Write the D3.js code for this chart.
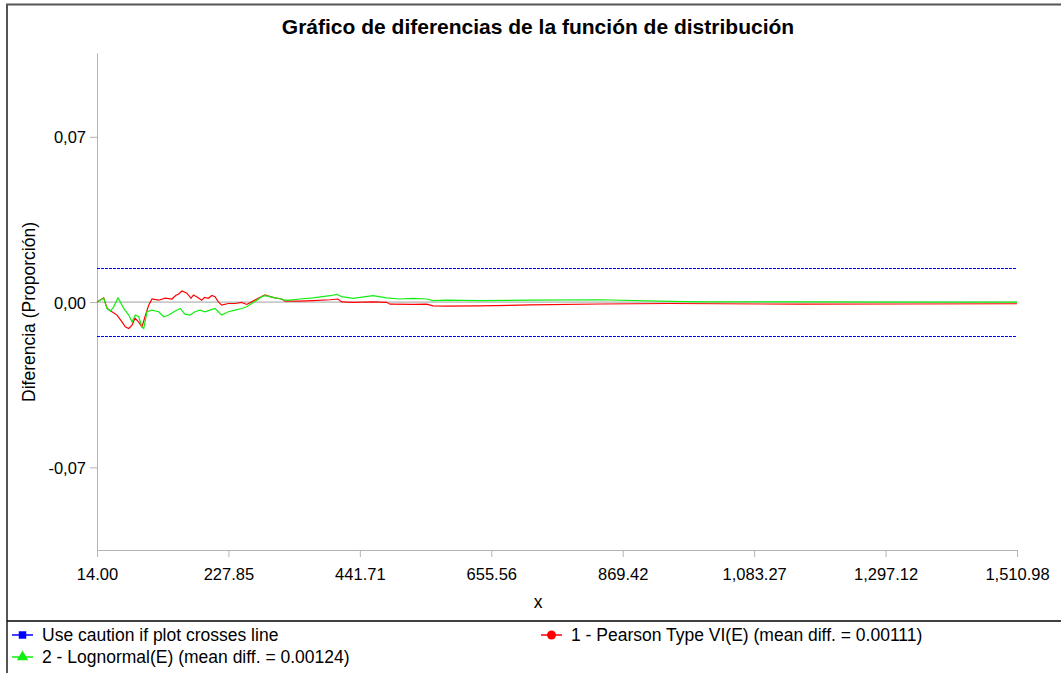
<!DOCTYPE html>
<html>
<head>
<meta charset="utf-8">
<script src="https://cdn.jsdelivr.net/npm/d3@7"></script>
<style>
  body { margin: 0; background: #fff; }
  text { font-family: "Liberation Sans", Arial, sans-serif; fill: #000; }
</style>
</head>
<body>
<svg width="1061" height="673"></svg>
<script>
// x values (data units) and differences for each fitted distribution
var redX = [14, 24.9, 30.3, 38.4, 46.5, 54.7, 60.0, 65.6, 71.0, 75.8, 81.9, 87.2, 92.1, 98.1, 103.5, 114.4, 125.1, 136.0, 142.0, 146.9, 152.3, 160.4, 167.0, 171.0, 176.2, 184.4, 189.0, 195.1, 201.0, 206.0, 211.4, 216.9, 227.6, 238.5, 249.4, 257.6, 265.7, 273.9, 282.0, 287.4, 295.5, 303.6, 314.5, 319.9, 344.3, 365.5, 393.1, 406.1, 412.2, 430.5, 463.1, 485.4, 490.8, 528.2, 550.5, 560.7, 583.0, 637.2, 718.6, 832.5, 946.4, 1158, 1320, 1510.98];
var redY = [0, 0.0018, -0.0026, -0.0041, -0.0055, -0.0084, -0.0105, -0.0112, -0.0098, -0.0068, -0.0085, -0.0105, -0.0062, -0.0013, 0.0013, 0.0008, 0.0017, 0.0013, 0.0028, 0.0034, 0.0047, 0.0038, 0.0016, 0.0030, 0.0023, 0.0008, 0.0020, 0.0016, 0.0028, 0.0023, 0.0001, -0.0013, -0.0006, -0.0006, -0.0001, -0.0010, 0.0001, 0.0013, 0.0023, 0.0030, 0.0023, 0.0018, 0.0013, 0.0004, 0.0004, 0.0006, 0.0010, 0.0013, 0.0001, -0.0001, 0.0001, -0.0001, -0.0009, -0.0010, -0.0009, -0.0016, -0.0017, -0.0016, -0.0012, -0.0008, -0.0006, -0.0009, -0.0008, -0.0007];

var greenX = [14, 24.9, 30.3, 35.6, 41.2, 48.2, 51.9, 57.4, 65.6, 71.0, 76.3, 81.9, 87.2, 90.0, 95.4, 103.5, 114.4, 122.5, 130.7, 141.4, 149.5, 157.2, 165.3, 173.5, 181.6, 189.7, 197.9, 206.0, 211.4, 216.9, 227.6, 238.5, 249.4, 257.6, 265.7, 273.9, 282.0, 287.4, 295.5, 303.6, 314.5, 319.9, 328.0, 344.3, 365.5, 393.1, 404.0, 412.2, 430.5, 463.1, 485.4, 507.0, 528.2, 550.5, 560.7, 583.0, 637.2, 718.6, 832.5, 946.4, 1000, 1158, 1320, 1510.98];
var greenY = [0, 0.0016, -0.0027, -0.0038, -0.0020, 0.0018, 0.0001, -0.0027, -0.0055, -0.0084, -0.0055, -0.0062, -0.0105, -0.0112, -0.0041, -0.0034, -0.0041, -0.0062, -0.0055, -0.0038, -0.0027, -0.0051, -0.0055, -0.0041, -0.0034, -0.0041, -0.0034, -0.0027, -0.0041, -0.0055, -0.0041, -0.0034, -0.0027, -0.0020, -0.0006, 0.0008, 0.0023, 0.0027, 0.0023, 0.0018, 0.0013, 0.0008, 0.0008, 0.0013, 0.0018, 0.0027, 0.0033, 0.0023, 0.0016, 0.0027, 0.0018, 0.0013, 0.0016, 0.0013, 0.0006, 0.0008, 0.0006, 0.0008, 0.0010, 0.0003, 0.0001, 0.0001, 0.0000, 0.0000];

var cautionLimit = 0.0144;
var xTicks = [14, 227.85, 441.71, 655.56, 869.42, 1083.27, 1297.12, 1510.98];
var yTicks = [0.07, 0, -0.07];

var legendLabels = ["Use caution if plot crosses line", "1 - Pearson Type VI(E) (mean diff. = 0.00111)", "2 - Lognormal(E) (mean diff. = 0.00124)"];

var svg = d3.select("svg");

// outer frame + legend separator
svg.append("path").attr("d", "M7,1000 L7,4.5 L1100,4.5").attr("fill", "none").attr("stroke", "#555").attr("stroke-width", 2);
svg.append("line").attr("x1", 7).attr("x2", 1061).attr("y1", 621).attr("y2", 621).attr("stroke", "#000").attr("stroke-width", 1.5);

var x = d3.scaleLinear().domain([14, 1510.98]).range([97, 1017]);
var y = d3.scaleLinear().domain([-0.105, 0.1055]).range([550, 53]);

var esFmt = d3.formatLocale({ decimal: ",", thousands: ".", grouping: [3], currency: ["", ""], minus: "-" }).format(".2f");
var enFmt = d3.format(",.2f");

var xAxis = svg.append("g").attr("transform", "translate(0,550)")
  .call(d3.axisBottom(x).tickValues(xTicks).tickSize(7).tickSizeOuter(0).tickPadding(6).tickFormat(enFmt));
var yAxis = svg.append("g").attr("transform", "translate(97,0)")
  .call(d3.axisLeft(y).tickValues(yTicks).tickSize(7).tickSizeOuter(0).tickPadding(4).tickFormat(esFmt));

[xAxis, yAxis].forEach(function (g) {
  g.selectAll("path, line").attr("stroke", "#b4b4b4");
  g.selectAll("text").style("font-size", "16.5px").attr("fill", "#000");
});
xAxis.selectAll("text").attr("dy", "1.05em");
yAxis.selectAll("text").attr("dy", "0.36em");

// zero line and caution limits
svg.append("line").attr("x1", x(14)).attr("x2", x(1510.98)).attr("y1", y(0)).attr("y2", y(0)).attr("stroke", "#a0a0a0");
[cautionLimit, -cautionLimit].forEach(function (c) {
  svg.append("line").attr("x1", x(14)).attr("x2", x(1510.98)).attr("y1", Math.round(y(c)) + 0.5).attr("y2", Math.round(y(c)) + 0.5)
    .attr("stroke", "#0000ff").attr("stroke-width", 1).attr("stroke-dasharray", "3,1");
});

var line = d3.line().x(function (d) { return x(d[0]); }).y(function (d) { return y(d[1]); });

svg.append("path").datum(d3.zip(redX, redY)).attr("d", line).attr("fill", "none").attr("stroke", "#ff0000").attr("stroke-width", 1.2);
svg.append("path").datum(d3.zip(greenX, greenY)).attr("d", line).attr("fill", "none").attr("stroke", "#11ee11").attr("stroke-width", 1.2);

// titles
svg.append("text").attr("x", 538).attr("y", 34).attr("text-anchor", "middle")
  .style("font-size", "21px").style("font-weight", "bold").text("Gráfico de diferencias de la función de distribución");
svg.append("text").attr("x", 538).attr("y", 608).attr("text-anchor", "middle").style("font-size", "17.5px").text("x");
svg.append("text").attr("transform", "translate(35,312) rotate(-90)").attr("text-anchor", "middle")
  .style("font-size", "17.5px").text("Diferencia (Proporción)");

// legend
var legend = [
  { x: 12, y: 635, color: "#0000ff", shape: "square", label: legendLabels[0] },
  { x: 541, y: 635, color: "#ff0000", shape: "circle", label: legendLabels[1] },
  { x: 12, y: 657, color: "#11ee11", shape: "triangle", label: legendLabels[2] }
];
var lg = svg.selectAll(".lg").data(legend).enter().append("g").attr("class", "lg")
  .attr("transform", function (d) { return "translate(" + d.x + "," + d.y + ")"; });
lg.append("line").attr("x1", 0).attr("x2", 21).attr("stroke", function (d) { return d.color; }).attr("stroke-width", 1.5);
lg.append("path").attr("transform", "translate(10.5,0)")
  .attr("d", function (d) {
    var t = d.shape === "square" ? d3.symbolSquare : d.shape === "circle" ? d3.symbolCircle : d3.symbolTriangle;
    return d3.symbol().type(t).size(d.shape === "circle" ? 64 : 56)();
  })
  .attr("fill", function (d) { return d.color; });
lg.append("text").attr("x", 30).attr("dy", "0.36em").style("font-size", "17.5px").text(function (d) { return d.label; });
</script>
</body>
</html>
